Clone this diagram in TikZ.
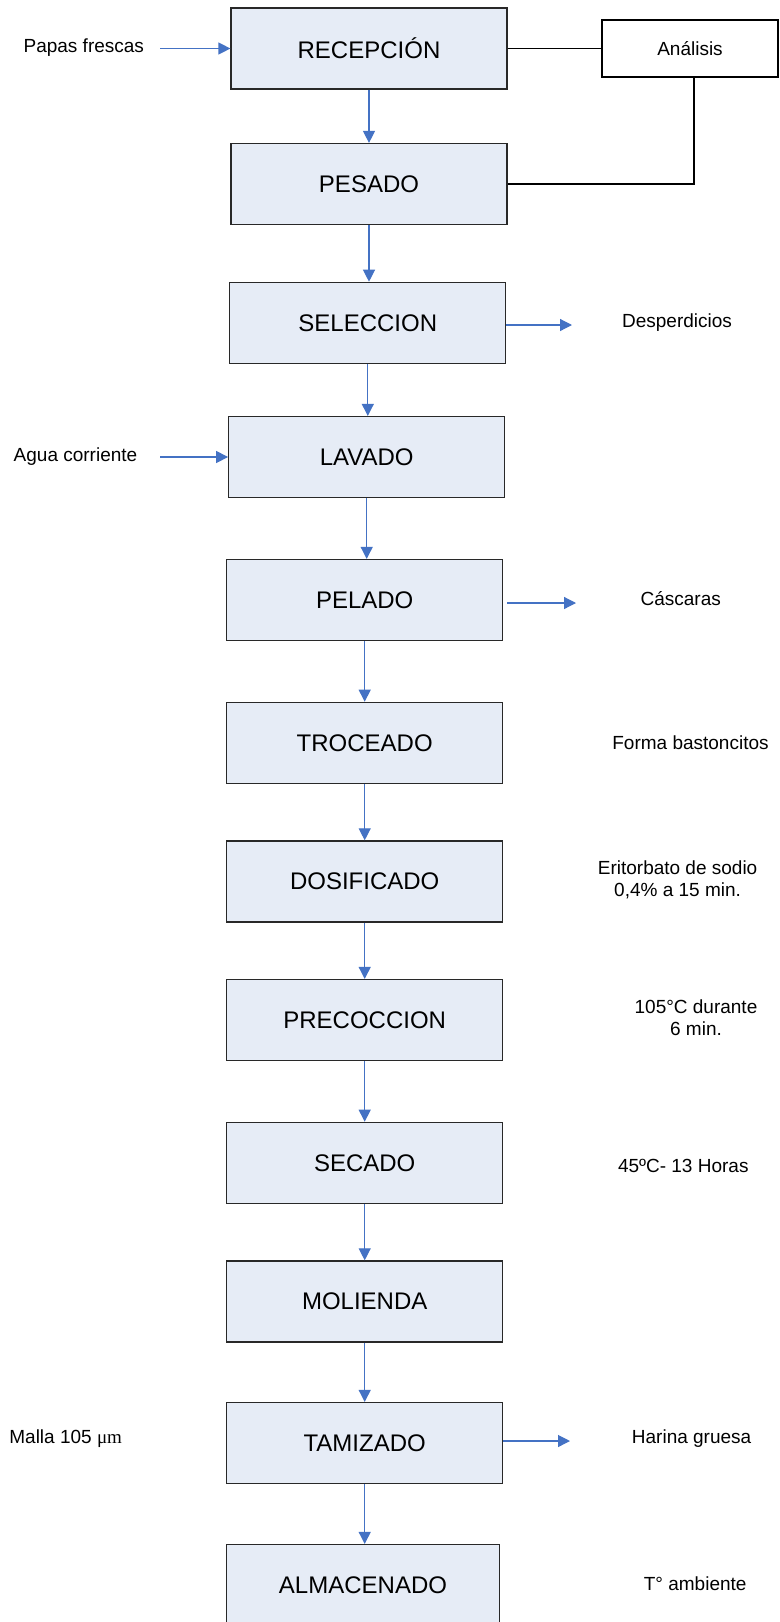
\documentclass[tikz,border=0pt]{standalone}
\usepackage{fontspec}
\setmainfont{Liberation Sans}
\newfontfamily\serifmu{Liberation Serif}
\usetikzlibrary{positioning, arrows.meta}
\definecolor{boxfill}{RGB}{230,236,246}
\definecolor{boxline}{RGB}{40,40,40}
\definecolor{flowblue}{RGB}{68,114,196}

\begin{document}
\begin{tikzpicture}[x=1pt,y=-1pt,
  procbox/.style={draw=boxline,fill=boxfill,line width=1.2pt,minimum width=276pt,
    minimum height=81pt,inner sep=0pt,font=\fontsize{24}{28}\selectfont},
  anabox/.style={draw=black,fill=white,line width=1.3pt,minimum width=176pt,
    minimum height=57pt,inner sep=0pt,font=\fontsize{19}{22}\selectfont},
  sidetext/.style={font=\fontsize{19}{22}\selectfont,align=center,inner sep=0pt},
  flow/.style={draw=flowblue,line width=1.2pt,-{Triangle[length=12pt,width=12pt]}},
  link/.style={draw=black,line width=1.4pt}]
\clip (0,0) rectangle (779,1622);
\fill[white] (0,0) rectangle (779,1622);

\node[procbox] (rec) at (369,48.5) {RECEPCIÓN};
\node[procbox] (pes) at (369,184) {PESADO};
\node[procbox] (sel) at (367.8,322.8) {SELECCION};
\node[procbox] (lav) at (366.7,457) {LAVADO};
\node[procbox] (pel) at (364.7,600) {PELADO};
\node[procbox] (tro) at (364.7,742.8) {TROCEADO};
\node[procbox] (dos) at (364.7,881.4) {DOSIFICADO};
\node[procbox] (pre) at (364.7,1020) {PRECOCCION};
\node[procbox] (sec) at (364.7,1162.8) {SECADO};
\node[procbox] (mol) at (364.7,1301.4) {MOLIENDA};
\node[procbox] (tam) at (364.7,1443) {TAMIZADO};
\node[procbox,minimum width=273pt] (alm) at (363,1585) {ALMACENADO};

\node[anabox] (ana) at (690,48.5) {Análisis};

\node[sidetext] (papas) at (83.8,47.6) {Papas frescas};
\node[sidetext] (agua) at (75.5,456.2) {Agua corriente};
\node[sidetext] (desp) at (677,322.8) {Desperdicios};
\node[sidetext] (casc) at (680.7,599) {Cáscaras};
\node[sidetext] (forma) at (690.5,742.8) {Forma bastoncitos};
\node[sidetext] (erit) at (677.6,880) {Eritorbato de sodio\\0,4\% a 15 min.};
\node[sidetext] (temp) at (696,1018) {105°C durante\\6 min.};
\node[sidetext] (secinfo) at (683.3,1165.9) {45ºC- 13 Horas};
\node[sidetext] (malla) at (65.7,1439) {Malla 105 {\serifmu μm}};
\node[sidetext] (harina) at (691.6,1439) {Harina gruesa};
\node[sidetext] (tamb) at (695.2,1583.8) {T° ambiente};

\coordinate (papas-out) at (160,48.5);
\coordinate (agua-out) at (160,457);
\coordinate (desp-in) at (572,325);
\coordinate (casc-in) at (576,603);
\coordinate (harina-in) at (570,1441);

\foreach \a/\b in {rec/pes,pes/sel,sel/lav,lav/pel,pel/tro,tro/dos,dos/pre,pre/sec,sec/mol,mol/tam,tam/alm}
  \draw[flow] (\a.south) -- (\a.south |- \b.north);

\draw[flow] (papas-out) -- (rec.west);
\draw[flow] (agua-out) -- (lav.west);
\draw[flow] (sel.east |- desp-in) -- (desp-in);
\draw[flow] ([xshift=4pt]pel.east |- casc-in) -- (casc-in);
\draw[flow] (tam.east |- harina-in) -- (harina-in);

\draw[link] (rec.east) -- (ana.west);
\draw[link] ([xshift=4pt]ana.south) |- (pes.east);
\end{tikzpicture}
\end{document}
